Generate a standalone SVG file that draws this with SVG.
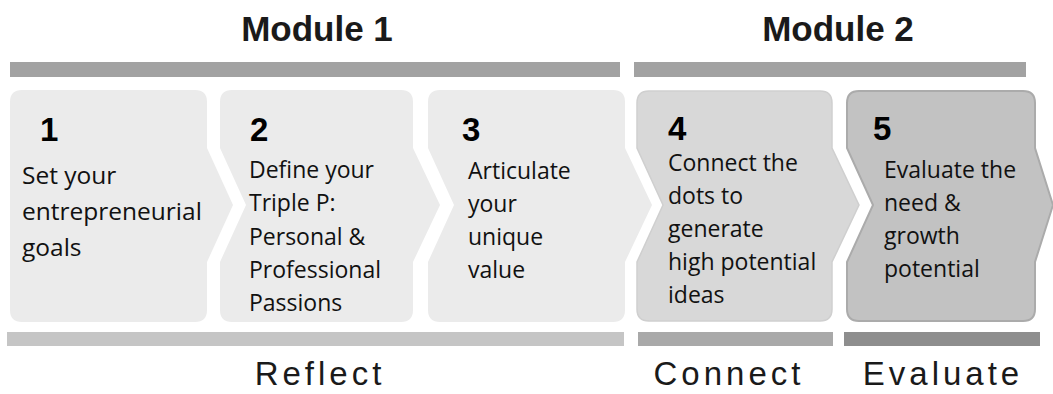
<svg xmlns="http://www.w3.org/2000/svg" width="1053" height="394" viewBox="0 0 1053 394">
  <style>
    .head { font-family: "Liberation Sans", Arial, sans-serif; font-weight: bold; font-size: 35px; fill: #1a1a1a; text-anchor: middle; }
    .phase { font-family: "Liberation Sans", Arial, sans-serif; font-size: 33px; fill: #1a1a1a; text-anchor: middle; letter-spacing: 4px; }
    .num { font-family: "Liberation Sans", Arial, sans-serif; font-weight: bold; font-size: 33px; fill: #000; }
    .body { font-family: "Open Sans", "Liberation Sans", sans-serif; font-size: 23px; fill: #111; }
    .big { font-size: 24.5px; }
    .light { fill: #ebebeb; }
    .mid { fill: #d8d8d8; stroke: #cfcfcf; stroke-width: 1.5; }
    .dark { fill: #c2c2c2; stroke: #ababab; stroke-width: 2; }
  </style>

  <rect width="1053" height="394" fill="#ffffff"/>

  <!-- module headings and bars -->
  <g id="module-1">
    <text class="head" x="317" y="41">Module 1</text>
    <rect x="10" y="62" width="610" height="15" fill="#a2a2a2"/>
  </g>
  <g id="module-2">
    <text class="head" x="838" y="41">Module 2</text>
    <rect x="634" y="62" width="392" height="15" fill="#a2a2a2"/>
  </g>

  <!-- step chevrons -->
  <g id="step-1">
    <path class="light" d="M22,90 H195 Q207,90 207,102 V148 L233,205 L207,262 V310 Q207,322 195,322 H22 Q10,322 10,310 V102 Q10,90 22,90 Z"/>
    <text class="num" x="40" y="141">1</text>
    <text class="body big" x="22" y="184">Set your</text>
    <text class="body big" x="22" y="220">entrepreneurial</text>
    <text class="body big" x="22" y="256">goals</text>
  </g>
  <g id="step-2">
    <path class="light" d="M232,90 H401 Q413,90 413,102 V148 L440,205 L413,262 V310 Q413,322 401,322 H232 Q220,322 220,310 V262 L246,205 L220,148 V102 Q220,90 232,90 Z"/>
    <text class="num" x="250" y="141">2</text>
    <text class="body" x="249" y="178">Define your</text>
    <text class="body" x="249" y="211">Triple P:</text>
    <text class="body" x="249" y="245">Personal &amp;</text>
    <text class="body" x="249" y="278">Professional</text>
    <text class="body" x="249" y="311">Passions</text>
  </g>
  <g id="step-3">
    <path class="light" d="M440,90 H613 Q625,90 625,102 V148 L652,205 L625,262 V310 Q625,322 613,322 H440 Q428,322 428,310 V262 L454,205 L428,148 V102 Q428,90 440,90 Z"/>
    <text class="num" x="462" y="141">3</text>
    <text class="body" x="468" y="179">Articulate</text>
    <text class="body" x="468" y="212">your</text>
    <text class="body" x="468" y="245">unique</text>
    <text class="body" x="468" y="278">value</text>
  </g>
  <g id="step-4">
    <path class="mid" d="M649,91 H820 Q832,91 832,103 V148 L859,205 L832,262 V309 Q832,321 820,321 H649 Q637,321 637,309 V262 L663,205 L637,148 V103 Q637,91 649,91 Z"/>
    <text class="num" x="668" y="140">4</text>
    <text class="body" x="668" y="171">Connect the</text>
    <text class="body" x="668" y="204">dots to</text>
    <text class="body" x="668" y="237">generate</text>
    <text class="body" x="668" y="270">high potential</text>
    <text class="body" x="668" y="303">ideas</text>
  </g>
  <g id="step-5">
    <path class="dark" d="M859,91 H1023 Q1035,91 1035,103 V148 L1053,205 L1035,262 V309 Q1035,321 1023,321 H859 Q847,321 847,309 V262 L873,205 L847,148 V103 Q847,91 859,91 Z"/>
    <text class="num" x="873" y="140">5</text>
    <text class="body" x="884" y="178">Evaluate the</text>
    <text class="body" x="884" y="211">need &amp;</text>
    <text class="body" x="884" y="244">growth</text>
    <text class="body" x="884" y="277">potential</text>
  </g>

  <!-- phase bars and labels -->
  <g id="phase-reflect">
    <rect x="7" y="332" width="617" height="14" fill="#c5c5c5"/>
    <text class="phase" x="320" y="385">Reflect</text>
  </g>
  <g id="phase-connect">
    <rect x="638" y="332" width="195" height="14" fill="#a9a9a9"/>
    <text class="phase" x="729" y="385">Connect</text>
  </g>
  <g id="phase-evaluate">
    <rect x="844" y="332" width="196" height="14" fill="#8e8e8e"/>
    <text class="phase" x="943" y="385">Evaluate</text>
  </g>
</svg>
